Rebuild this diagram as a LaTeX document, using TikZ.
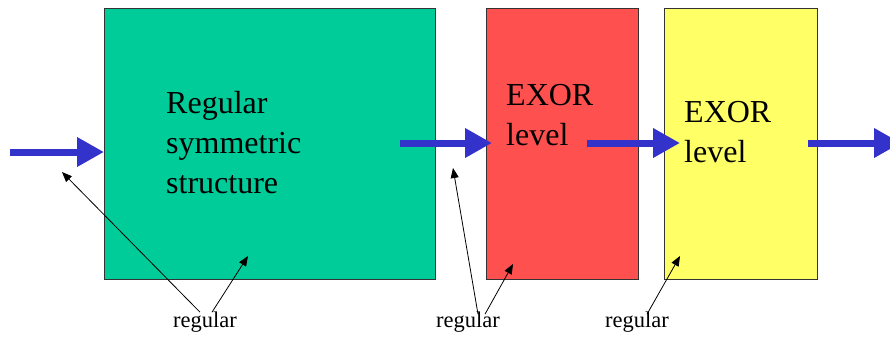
\documentclass[tikz,border=0pt]{standalone}
\usepackage{fontspec}
\setmainfont{Liberation Serif}
\usetikzlibrary{arrows.meta}
\definecolor{boxgreen}{HTML}{00CC99}
\definecolor{boxred}{HTML}{FF5050}
\definecolor{boxyellow}{HTML}{FFFF66}
\definecolor{flowblue}{HTML}{3333CC}
\tikzset{
  blockbox/.style={draw=black!80, line width=1pt, anchor=north west, inner sep=0pt},
  bigtext/.style={anchor=base west, inner sep=0pt, align=left, font=\fontsize{32}{40}\selectfont},
  smalltext/.style={anchor=base west, inner sep=0pt, font=\fontsize{22.5}{24}\selectfont},
  flow/.style={draw=flowblue, line width=7pt, -{Triangle[length=27pt,width=28pt]}},
  pointer/.style={draw=black, line width=0.8pt, -{Triangle[length=10pt,width=8pt]}},
}
\begin{document}
\begin{tikzpicture}[x=1pt,y=-1pt]
\useasboundingbox (0,0) rectangle (890,337);
% boxes
\node[blockbox, fill=boxgreen, minimum width=331pt, minimum height=271pt] (green) at (104,8) {};
\node[blockbox, fill=boxred, minimum width=152pt, minimum height=271pt] (red) at (486,8) {};
\node[blockbox, fill=boxyellow, minimum width=153pt, minimum height=271pt] (yellow) at (664,8) {};
% texts (base anchor = baseline of the last line)
\node[bigtext] (gtext) at (166,193) {Regular\\symmetric\\structure};
\node[bigtext] (rtext) at (506,145) {EXOR\\level};
\node[bigtext] (ytext) at (684,162) {EXOR\\level};
% flow arrows
\coordinate (in) at (10,152);
\coordinate (g2r) at (400,143);
\coordinate (r2y) at (587,143);
\coordinate (out) at (808,143);
\coordinate (outend) at (901,143);
\draw[flow] (in) -- (green.west |- in);
\draw[flow] (g2r) -- ([xshift=6pt]red.west |- g2r);
\draw[flow] (r2y) -- ([xshift=16pt]yellow.west |- r2y);
\draw[flow] (out) -- (outend);
% labels
\node[smalltext] (lab1) at (173,327) {regular};
\node[smalltext] (lab2) at (436,327) {regular};
\node[smalltext] (lab3) at (605,327) {regular};
\coordinate (t1a) at (62,172);
\coordinate (t1b) at (248,256);
\coordinate (t2a) at (453,168);
\coordinate (t2b) at (513,264);
\coordinate (t3) at (680,256);
\draw[pointer] ([xshift=27pt,yshift=-1pt]lab1.north west) -- (t1a);
\draw[pointer] ([xshift=39pt,yshift=-1pt]lab1.north west) -- (t1b);
\draw[pointer] ([xshift=42pt,yshift=-3pt]lab2.north west) -- (t2a);
\draw[pointer] ([xshift=49pt,yshift=-3pt]lab2.north west) -- (t2b);
\draw[pointer] ([xshift=42pt,yshift=-3pt]lab3.north west) -- (t3);
\end{tikzpicture}
\end{document}
